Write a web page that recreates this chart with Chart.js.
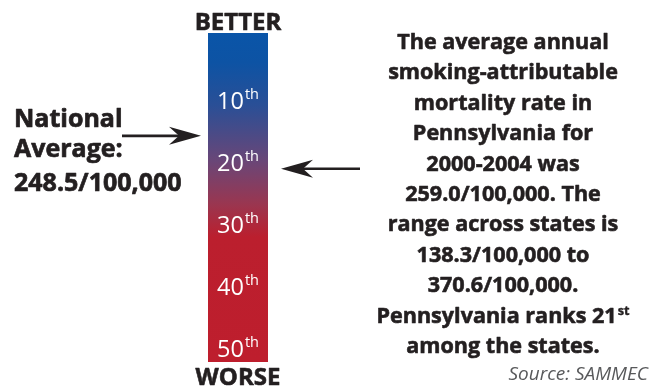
<!DOCTYPE html>
<html>
<head>
<meta charset="utf-8">
<script src="https://cdn.jsdelivr.net/npm/chart.js@4/dist/chart.umd.min.js"></script>
<style>
html,body{margin:0;padding:0;background:#fff;}
#wrap{width:658px;height:388px;position:relative;}
</style>
</head>
<body>
<div id="wrap"><canvas id="c" width="658" height="388"></canvas></div>
<script>
// ---- data ----
const categories = ['Rank'];
const rankTicks = [10, 20, 30, 40, 50];
const tickSuffixes = ['th', 'th', 'th', 'th', 'th'];
const stateRank = 21;            // Pennsylvania
const nationalAvgRank = 15.7;    // estimated position of the national-average arrow
const rankRange = [-0.9, 52.2];  // extent of the coloured scale bar
const topLabel = 'BETTER';
const bottomLabel = 'WORSE';
const leftLines = ['National', 'Average:', '248.5/100,000'];
const rightLines = [
  'The average annual',
  'smoking-attributable',
  'mortality rate in',
  'Pennsylvania for',
  '2000-2004 was',
  '259.0/100,000. The',
  'range across states is',
  '138.3/100,000 to',
  '370.6/100,000.',
  ['Pennsylvania ranks 21', 'st'],
  'among the states.'
];
const sourceText = 'Source: SAMMEC';

const FONT = '"Open Sans", "DejaVu Sans", sans-serif';
const TXT = '#231f20';

function arrow(ctx, x1, y, x2) {
  const dir = Math.sign(x2 - x1);
  const headLen = 32, halfH = 9, notch = 10;
  ctx.save();
  ctx.strokeStyle = TXT; ctx.fillStyle = TXT; ctx.lineWidth = 2.6;
  ctx.beginPath();
  ctx.moveTo(x1, y); ctx.lineTo(x2 - dir * (headLen - notch), y); ctx.stroke();
  ctx.beginPath();
  ctx.moveTo(x2, y);
  ctx.lineTo(x2 - dir * headLen, y - halfH);
  ctx.lineTo(x2 - dir * (headLen - notch), y);
  ctx.lineTo(x2 - dir * headLen, y + halfH);
  ctx.closePath(); ctx.fill();
  ctx.restore();
}

function drawText(ctx, text, x, y, scaleX, align, heavy) {
  ctx.save();
  ctx.translate(x, y);
  ctx.scale(scaleX, 1);
  ctx.textAlign = align || 'center';
  if (heavy) {
    ctx.lineWidth = heavy;
    ctx.lineJoin = 'round';
    ctx.strokeStyle = ctx.fillStyle;
    ctx.strokeText(text, 0, 0);
  }
  ctx.fillText(text, 0, 0);
  ctx.restore();
}

const overlay = {
  id: 'overlay',
  afterDatasetsDraw(chart) {
    const ctx = chart.ctx;
    const ys = chart.scales.y;
    const area = chart.chartArea;
    const cx = (area.left + area.right) / 2;
    ctx.save();
    ctx.textBaseline = 'alphabetic';
    // tick labels inside bar
    ctx.fillStyle = '#ffffff';
    rankTicks.forEach((r, i) => {
      const y = ys.getPixelForValue(r);
      ctx.font = '400 23.5px ' + FONT;
      const num = String(r);
      const w1 = ctx.measureText(num).width;
      ctx.font = '400 14.5px ' + FONT;
      const w2 = ctx.measureText(tickSuffixes[i]).width;
      const x0 = cx - (w1 + 1 + w2) / 2;
      ctx.font = '400 23.5px ' + FONT;
      drawText(ctx, num, x0, y + 8.5, 1, 'left');
      ctx.font = '400 14.5px ' + FONT;
      drawText(ctx, tickSuffixes[i], x0 + w1 + 1, y - 1.5, 1, 'left');
    });
    // BETTER / WORSE
    ctx.fillStyle = TXT;
    ctx.font = '700 24px ' + FONT;
    drawText(ctx, topLabel, cx, 29.5, 1.0, 'center', 0.6);
    drawText(ctx, bottomLabel, cx, 385, 1.0, 'center', 0.6);
    // left text
    ctx.font = '700 25px ' + FONT;
    const lb = [127, 157, 191];
    leftLines.forEach((t, i) => drawText(ctx, t, 14, lb[i], 1.0, 'left', 0.7));
    // right text
    const RS = 22, RSX = 0.98;
    rightLines.forEach((t, i) => {
      const y = 49 + i * 30.4;
      if (Array.isArray(t)) {
        ctx.font = '700 ' + RS + 'px ' + FONT;
        const w1 = ctx.measureText(t[0]).width * RSX;
        ctx.font = '700 13px ' + FONT;
        const w2 = ctx.measureText(t[1]).width * RSX;
        const x0 = 503 - (w1 + 1 + w2) / 2;
        ctx.font = '700 ' + RS + 'px ' + FONT;
        drawText(ctx, t[0], x0, y, RSX, 'left', 0.6);
        ctx.font = '700 13px ' + FONT;
        drawText(ctx, t[1], x0 + w1 + 1, y - 8, RSX, 'left', 0.4);
      } else {
        ctx.font = '700 ' + RS + 'px ' + FONT;
        drawText(ctx, t, 503, y, RSX, 'center', 0.6);
      }
    });
    // source
    ctx.fillStyle = '#58595b';
    ctx.font = 'italic 400 19px ' + FONT;
    drawText(ctx, sourceText, 648, 380, 1.0, 'right');
    ctx.restore();
    // arrows
    arrow(ctx, 122, ys.getPixelForValue(nationalAvgRank), 201);
    arrow(ctx, 360, ys.getPixelForValue(stateRank), 281);
  }
};

new Chart(document.getElementById('c'), {
  type: 'bar',
  data: {
    labels: categories,
    datasets: [{
      data: [rankRange],
      borderWidth: 0,
      borderSkipped: false,
      barPercentage: 1.0,
      categoryPercentage: 1.0,
      backgroundColor(context) {
        const chart = context.chart;
        const a = chart.chartArea;
        if (!a) return '#0a52a5';
        const g = chart.ctx.createLinearGradient(0, a.top, 0, a.bottom);
        g.addColorStop(0.0, '#0a55a8');
        g.addColorStop(0.09, '#0d53a4');
        g.addColorStop(0.22, '#2a4f96');
        g.addColorStop(0.39, '#6a4677');
        g.addColorStop(0.52, '#9a3650');
        g.addColorStop(0.62, '#bb1f2e');
        g.addColorStop(1.0, '#be1e2d');
        return g;
      }
    }]
  },
  options: {
    responsive: false,
    animation: false,
    events: [],
    layout: { padding: { left: 208, right: 390, top: 33, bottom: 26 } },
    plugins: { legend: { display: false }, tooltip: { enabled: false } },
    scales: {
      x: { display: false },
      y: { display: false, reverse: true, min: rankRange[0], max: rankRange[1] }
    }
  },
  plugins: [overlay]
});
</script>
</body>
</html>
